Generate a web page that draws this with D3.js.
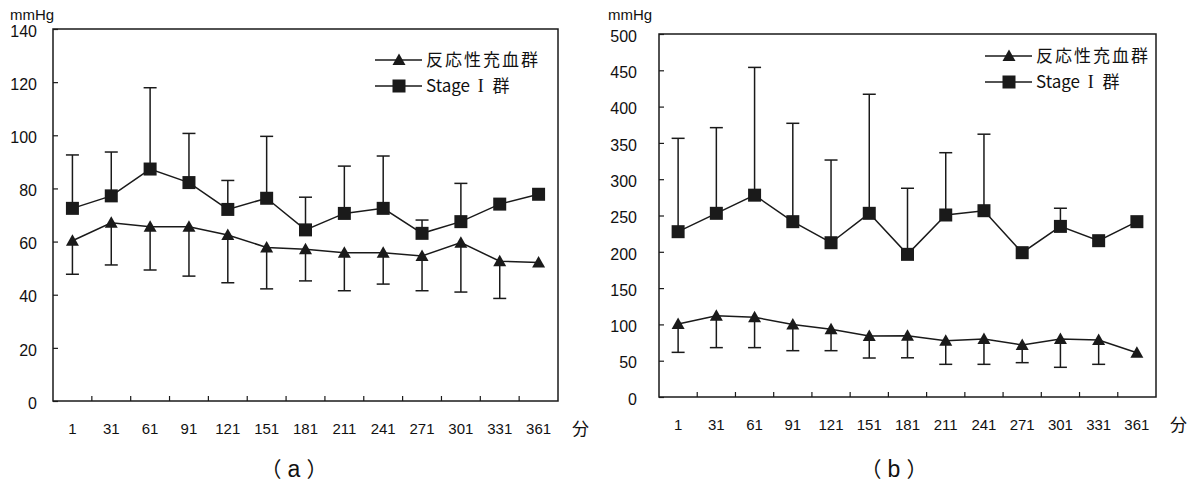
<!DOCTYPE html>
<html>
<head>
<meta charset="utf-8">
<script src="https://cdn.jsdelivr.net/npm/d3@7"></script>
<style>
  body { margin: 0; background: #fff; }
  text { fill: #111; }
</style>
</head>
<body>
<svg id="chart" width="1190" height="486"></svg>
<script>
// categories (minutes)
var minutes = ["1","31","61","91","121","151","181","211","241","271","301","331","361"];
var seriesNames = ["反応性充血群", "Stage I 群"];
var captions = ["a", "b"];

// (a) mean, and end of error bar
var hyperA     = [60.3, 67.1, 65.6, 65.6, 62.5, 57.8, 57.1, 55.8, 55.8, 54.6, 59.6, 52.6, 52.1];
var hyperLowA  = [47.7, 51.2, 49.3, 47.0, 44.5, 42.2, 45.2, 41.5, 44.0, 41.5, 41.0, 38.6, null];
var stageA     = [72.5, 77.2, 87.3, 82.2, 72.1, 76.3, 64.4, 70.6, 72.5, 63.1, 67.5, 74.1, 77.8];
var stageHighA = [92.6, 93.7, 117.9, 100.7, 83.0, 99.6, 76.7, 88.4, 92.2, 68.1, 81.9, null, null];

// (b)
var hyperB     = [100.5, 112, 109.8, 100, 93.2, 84, 84.5, 77.6, 80, 71.6, 80, 78.5, 61];
var hyperLowB  = [61.5, 68, 68, 63.8, 63.8, 53.7, 54, 45, 45, 47.3, 40.9, 45, null];
var stageB     = [227.7, 253, 278, 241.5, 212.5, 253, 196.5, 250.7, 256.6, 198.8, 235, 215.3, 241.5];
var stageHighB = [356.3, 371, 454, 377, 326.4, 417, 287.5, 336.5, 362, null, 260, null, null];

var yTicksA = [0, 20, 40, 60, 80, 100, 120, 140];
var yTicksB = [0, 50, 100, 150, 200, 250, 300, 350, 400, 450, 500];

var svg = d3.select("#chart");
var ink = "#1a1a1a";
var sans = "Liberation Sans, Arial, sans-serif";
var jp = "Noto Sans CJK JP, sans-serif";

function drawPanel(p) {
  var g = svg.append("g");

  var x = d3.scaleBand().domain(minutes).range([p.left, p.right]).padding(0);
  var y = d3.scaleLinear().domain([0, p.yMax]).range([p.bottom, p.top]);
  var cx = function(d, i) { return x(minutes[i]) + x.bandwidth() / 2; };

  // frame
  g.append("rect")
    .attr("x", p.left).attr("y", p.top)
    .attr("width", p.right - p.left).attr("height", p.bottom - p.top)
    .attr("fill", "none").attr("stroke", ink).attr("stroke-width", 1.5);

  // y axis, ticks pointing in
  var yAxis = g.append("g")
    .attr("transform", "translate(" + p.left + ",0)")
    .call(d3.axisLeft(y).tickValues(p.yTicks).tickSize(-5).tickPadding(p.labelPad));
  yAxis.select(".domain").remove();
  yAxis.selectAll("line").attr("stroke", ink).attr("stroke-width", 1.2);
  yAxis.selectAll("text")
    .attr("font-family", sans)
    .attr("font-size", 16).attr("fill", "#111").attr("dy", "0.45em");

  // x ticks at band boundaries
  g.selectAll(".xtick").data(minutes.slice(1)).enter().append("line")
    .attr("x1", function(d) { return x(d); }).attr("x2", function(d) { return x(d); })
    .attr("y1", p.bottom).attr("y2", p.bottom - 5)
    .attr("stroke", ink).attr("stroke-width", 1.2);

  g.selectAll(".xlab").data(minutes).enter().append("text")
    .attr("x", function(d) { return x(d) + x.bandwidth() / 2; })
    .attr("y", p.bottom + 33)
    .attr("text-anchor", "middle")
    .attr("font-family", sans)
    .attr("font-size", 15)
    .text(function(d) { return d; });

  g.append("text")
    .attr("x", p.right + 14).attr("y", p.bottom + 34)
    .attr("font-family", jp).attr("font-size", 17)
    .text("分");

  g.append("text")
    .attr("x", p.unitX).attr("y", 20)
    .attr("font-family", sans).attr("font-size", 15)
    .text("mmHg");

  // error bars
  function errorBars(mean, end) {
    var data = mean.map(function(m, i) { return { i: i, m: m, e: end[i] }; })
      .filter(function(d) { return d.e != null; });
    g.selectAll(null).data(data).enter().append("line")
      .attr("x1", function(d) { return cx(null, d.i); }).attr("x2", function(d) { return cx(null, d.i); })
      .attr("y1", function(d) { return y(d.m); }).attr("y2", function(d) { return y(d.e); })
      .attr("stroke", ink).attr("stroke-width", 1.5);
    g.selectAll(null).data(data).enter().append("line")
      .attr("x1", function(d) { return cx(null, d.i) - 6.5; }).attr("x2", function(d) { return cx(null, d.i) + 6.5; })
      .attr("y1", function(d) { return y(d.e); }).attr("y2", function(d) { return y(d.e); })
      .attr("stroke", ink).attr("stroke-width", 1.5);
  }
  errorBars(p.stage, p.stageHigh);
  errorBars(p.hyper, p.hyperLow);

  var line = d3.line().x(cx).y(function(d) { return y(d); });
  [p.hyper, p.stage].forEach(function(s) {
    g.append("path").datum(s).attr("d", line)
      .attr("fill", "none").attr("stroke", ink).attr("stroke-width", 1.5);
  });

  var tri = "M0,-6.5L6.5,5L-6.5,5Z";
  g.selectAll(null).data(p.hyper).enter().append("path")
    .attr("d", tri).attr("fill", ink)
    .attr("transform", function(d, i) { return "translate(" + cx(d, i) + "," + y(d) + ")"; });
  g.selectAll(null).data(p.stage).enter().append("rect")
    .attr("x", function(d, i) { return cx(d, i) - 6.5; })
    .attr("y", function(d) { return y(d) - 6.5; })
    .attr("width", 13).attr("height", 13).attr("fill", ink);

  // legend
  seriesNames.forEach(function(name, k) {
    var ly = p.legendY + k * 26;
    var lg = g.append("g");
    lg.append("line")
      .attr("x1", p.legendX).attr("x2", p.legendX + 47)
      .attr("y1", ly).attr("y2", ly)
      .attr("stroke", ink).attr("stroke-width", 1.5);
    if (k === 0) {
      lg.append("path").attr("d", tri).attr("fill", ink)
        .attr("transform", "translate(" + (p.legendX + 24) + "," + ly + ")");
    } else {
      lg.append("rect").attr("x", p.legendX + 17.5).attr("y", ly - 6.5)
        .attr("width", 13).attr("height", 13).attr("fill", ink);
    }
    var t = lg.append("text")
      .attr("x", p.legendX + 51).attr("y", ly + 6)
      .attr("font-family", jp).attr("font-size", 17);
    if (k === 0) {
      t.attr("letter-spacing", 2).text(name);
    } else {
      // roman numeral drawn with serifs, as in the original
      var parts = name.split(" ");
      t.append("tspan").text(parts[0] + " ");
      t.append("tspan").attr("dx", 4).attr("font-family", "Liberation Serif, serif").attr("font-size", 18).text(parts[1]);
      t.append("tspan").attr("dx", 5).text(" " + parts[2]);
    }
  });

  var cap = g.append("text")
    .attr("x", p.captionX).attr("y", 477)
    .attr("text-anchor", "middle")
    .attr("font-family", jp).attr("font-size", 21);
  cap.append("tspan").text("（");
  cap.append("tspan").attr("dx", 6).attr("font-family", sans).attr("font-size", 23).text(p.caption);
  cap.append("tspan").attr("dx", 6).text("）");
}

drawPanel({
  left: 53, right: 558, top: 29, bottom: 401, yMax: 140, yTicks: yTicksA, labelPad: 16,
  unitX: 10, legendX: 375, legendY: 60, captionX: 294, caption: captions[0],
  hyper: hyperA, hyperLow: hyperLowA, stage: stageA, stageHigh: stageHighA
});
drawPanel({
  left: 659, right: 1156, top: 34, bottom: 397, yMax: 500, yTicks: yTicksB, labelPad: 22,
  unitX: 608, legendX: 985, legendY: 56, captionX: 894, caption: captions[1],
  hyper: hyperB, hyperLow: hyperLowB, stage: stageB, stageHigh: stageHighB
});
</script>
</body>
</html>
